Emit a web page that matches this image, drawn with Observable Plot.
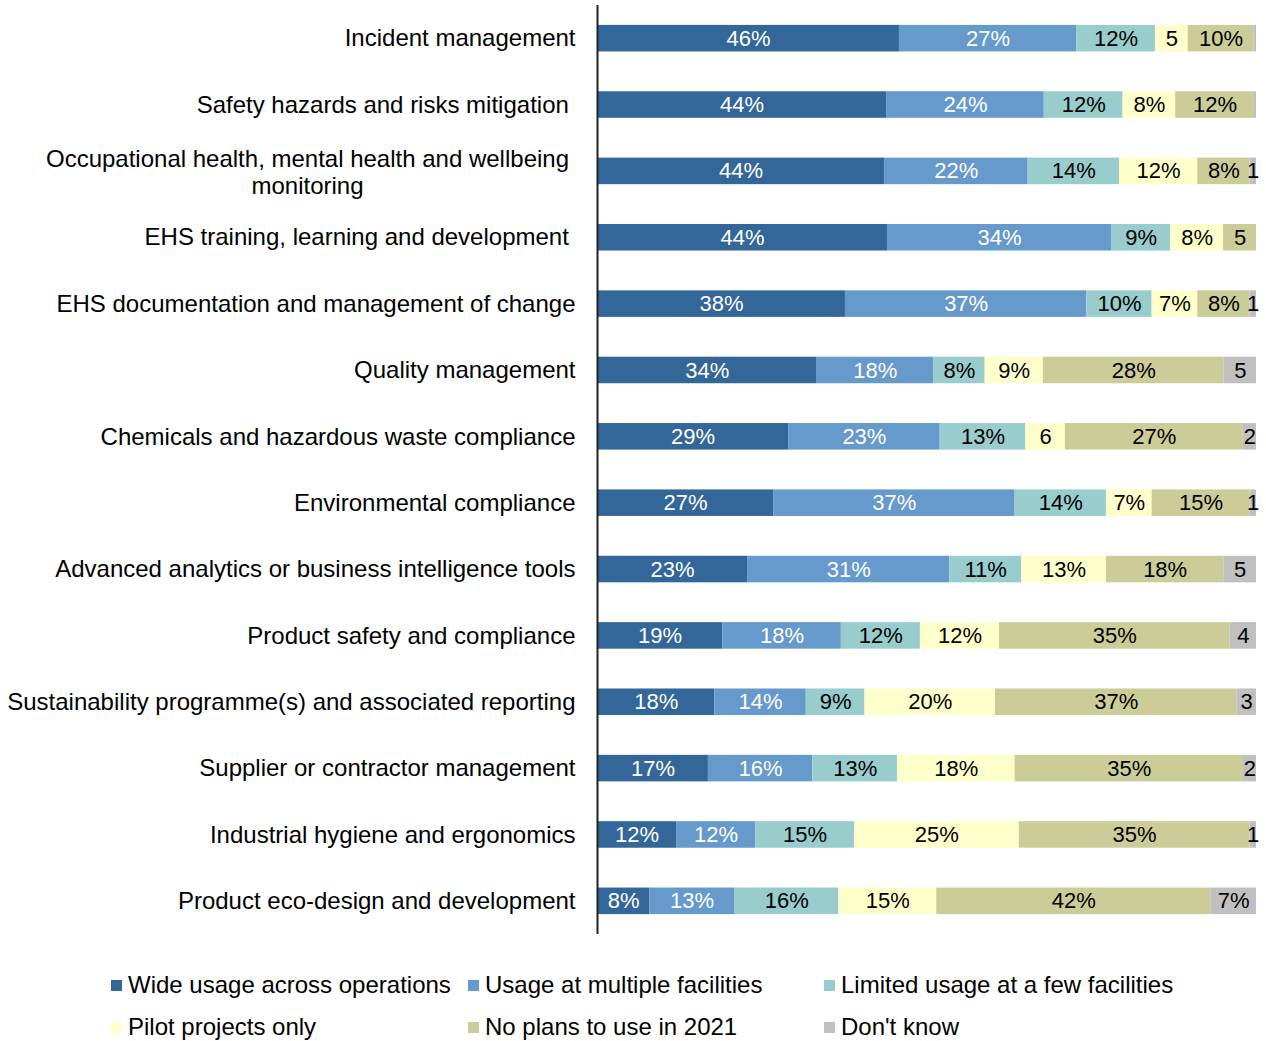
<!DOCTYPE html>
<html>
<head>
<meta charset="utf-8">
<script src="https://cdn.jsdelivr.net/npm/d3@7"></script>
<script src="https://cdn.jsdelivr.net/npm/@observablehq/plot@0.6"></script>
<style>
  body { margin: 0; background: #fff; font-family: "Liberation Sans", Arial, sans-serif; }
  #legend { position: relative; height: 101px; width: 1266px; }
  .li { position: absolute; display: flex; align-items: center; font-size: 24px; color: #000; white-space: nowrap; }
  .sw { width: 11px; height: 11px; margin-right: 6px; }
</style>
</head>
<body>
<div id="chart"></div>
<div id="legend"></div>
<script>
const categories = [
  "Incident management",
  "Safety hazards and risks mitigation",
  "Occupational health, mental health and wellbeing monitoring",
  "EHS training, learning and development",
  "EHS documentation and management of change",
  "Quality management",
  "Chemicals and hazardous waste compliance",
  "Environmental compliance",
  "Advanced analytics or business intelligence tools",
  "Product safety and compliance",
  "Sustainability programme(s) and associated reporting",
  "Supplier or contractor management",
  "Industrial hygiene and ergonomics",
  "Product eco-design and development"
];
const series = [
  "Wide usage across operations",
  "Usage at multiple facilities",
  "Limited usage at a few facilities",
  "Pilot projects only",
  "No plans to use in 2021",
  "Don't know"
];
const colors = ["#336699", "#6699CC", "#99CCCC", "#FFFFCC", "#CCCC99", "#C0C0C0"];

const wideUsage     = [46, 44, 44, 44, 38, 34, 29, 27, 23, 19, 18, 17, 12, 8];
const multiple      = [27, 24, 22, 34, 37, 18, 23, 37, 31, 18, 14, 16, 12, 13];
const limited       = [12, 12, 14,  9, 10,  8, 13, 14, 11, 12,  9, 13, 15, 16];
const pilot         = [ 5,  8, 12,  8,  7,  9,  6,  7, 13, 12, 20, 18, 25, 15];
const noPlans       = [10, 12,  8,  5,  8, 28, 27, 15, 18, 35, 37, 35, 35, 42];
const dontKnow      = [0.4, 0.3, 1, 0, 1,  5,  2,  1,  5,  4,  3,  2,  1,  7];
const seriesValues = [wideUsage, multiple, limited, pilot, noPlans, dontKnow];

// category labels as drawn (some have a trailing space in the original)
const paddedLabels = {
  "Safety hazards and risks mitigation": "Safety hazards and risks mitigation\u00a0",
  "EHS training, learning and development": "EHS training, learning and development\u00a0"
};
const wrappedLabel = "Occupational health, mental health and wellbeing monitoring";
const wrappedText = "Occupational health, mental health and wellbeing\nmonitoring";

const data = [];
categories.forEach((c, i) => {
  series.forEach((s, j) => {
    data.push({category: c, series: s, si: j, value: seriesValues[j][i]});
  });
});

const fmt = v => (v < 0.5 ? "" : Math.round(v) >= 7 ? Math.round(v) + "%" : String(Math.round(v)));

const stackOpts = {offset: "normalize", order: series};
const labelFont = "'Liberation Sans Narrow', 'Arial Narrow', sans-serif";

const chart = Plot.plot({
  width: 1266,
  height: 940,
  marginLeft: 597,
  marginRight: 10,
  marginTop: 5,
  marginBottom: 6,
  style: {fontFamily: "'Liberation Sans', Arial, sans-serif", background: "#fff"},
  x: {axis: null, domain: [0, 1]},
  y: {domain: categories, paddingInner: 0.6, paddingOuter: 0.3, round: false, label: null},
  color: {domain: series, range: colors},
  marks: [
    Plot.barX(data, Plot.stackX(stackOpts, {
      x: "value", y: "category", fill: "series"
    })),
    Plot.text(data, Plot.stackX(stackOpts, {
      x: "value", y: "category", z: "series",
      text: d => d.si < 2 ? fmt(d.value) : "",
      fill: "white", fontSize: 22, fontFamily: labelFont
    })),
    Plot.text(data, Plot.stackX(stackOpts, {
      x: "value", y: "category", z: "series",
      text: d => d.si >= 2 ? fmt(d.value) : "",
      fill: "black", fontSize: 22, fontFamily: labelFont
    })),
    Plot.axisY({
      tickSize: 0, tickPadding: 22, fontSize: 24, fill: "black",
      tickFormat: d => d === wrappedLabel ? "" : (paddedLabels[d] || d)
    }),
    Plot.text([wrappedLabel], {
      y: d => d, frameAnchor: "left", textAnchor: "middle", dx: -290,
      text: () => wrappedText, fontSize: 24, lineHeight: 1.125, fill: "black"
    }),
    Plot.ruleX([0], {stroke: "#222", strokeWidth: 2})
  ]
});
document.getElementById("chart").appendChild(chart);

// legend
const legend = document.getElementById("legend");
const colX = [111, 468, 824];
const rowY = [45, 87];
series.forEach((s, j) => {
  const el = document.createElement("div");
  el.className = "li";
  el.style.left = colX[j % 3] + "px";
  el.style.top = (rowY[Math.floor(j / 3)] - 14) + "px";
  el.style.height = "28px";
  const sw = document.createElement("span");
  sw.className = "sw";
  sw.style.background = colors[j];
  const tx = document.createElement("span");
  tx.textContent = s;
  el.appendChild(sw);
  el.appendChild(tx);
  legend.appendChild(el);
});
</script>
</body>
</html>
